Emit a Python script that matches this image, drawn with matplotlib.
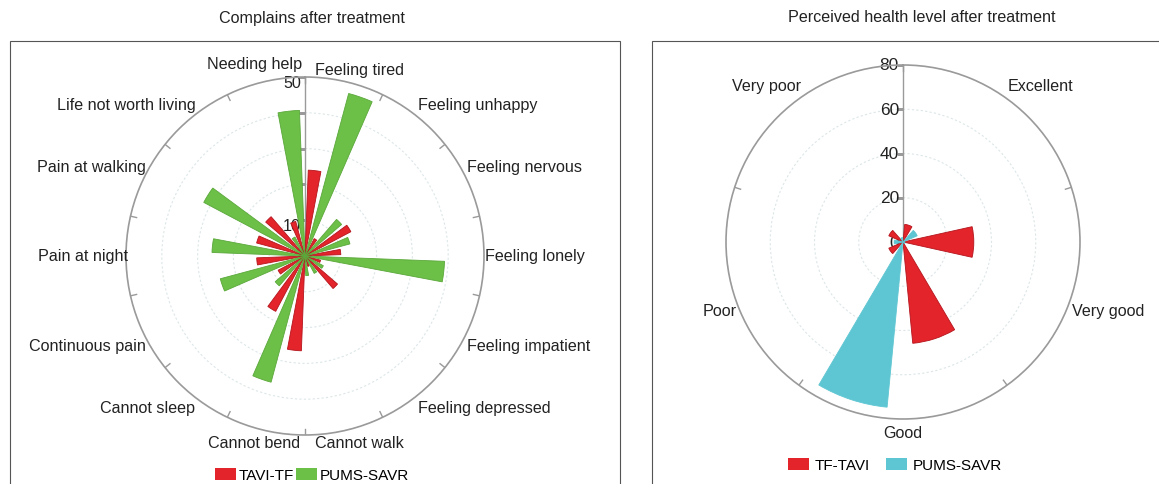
import numpy as np
import matplotlib.pyplot as plt
from matplotlib.patches import Patch, Rectangle

plt.rcParams['font.family'] = ['Liberation Sans', 'DejaVu Sans']

# left chart: complaints, clockwise from the top
complaints = ['Feeling tired', 'Feeling unhappy', 'Feeling nervous', 'Feeling lonely',
              'Feeling impatient', 'Feeling depressed', 'Cannot walk', 'Cannot bend',
              'Cannot sleep', 'Continuous pain', 'Pain at night', 'Pain at walking',
              'Life not worth living', 'Needing help']
tavi_tf = [24, 5.5, 14.5, 10, 4.5, 12, 3, 26.5, 17.5, 8.5, 13.5, 14, 14.5, 10]
pums_savr = [47, 13.5, 13, 39, 5.8, 5.5, 5.5, 36.5, 11, 24.5, 26, 32, 6, 40.7]
complaint_ticks = [10, 20, 30, 40, 50]
complaint_tick_labels = ['10', '', '', '', '50']  # the others sit under the bars

# right chart: perceived health
health_levels = ['Excellent', 'Very good', 'Good', 'Poor', 'Very poor']
tf_tavi = [8, 32, 46, 7, 7]
pums_savr_health = [7, 1, 75, 4, 2]
health_ticks = [0, 20, 40, 60, 80]

RED = '#e3242b'
GREEN = '#6cbf47'
CYAN = '#5ec6d2'
GREY = '#9a9a9a'

W, H = 1159, 485
fig = plt.figure(figsize=(W / 100, H / 100), dpi=100)


def polar_axes(cx, cy, r):
    return fig.add_axes([(cx - r) / W, (H - cy - r) / H, 2 * r / W, 2 * r / H], projection='polar')


def setup(ax, cats, rmax, rticks, rlabels, rfont, rdy, center_shift, vpad, nudges={}):
    n = len(cats)
    step = 2 * np.pi / n
    ax.set_theta_zero_location('N')
    ax.set_theta_direction(-1)
    ax.set_ylim(0, rmax)
    ax.set_xticks(np.arange(n) * step)
    ax.set_xticklabels([])
    ax.tick_params(axis='x', length=0)
    ax.set_yticks(rticks)
    ax.set_yticklabels([])
    ax.tick_params(axis='y', length=0)
    ax.xaxis.grid(False)
    ax.yaxis.grid(True, color='#dce6e8', linestyle=(0, (2, 2)), lw=0.8)
    ax.spines['polar'].set_color(GREY)
    ax.spines['polar'].set_linewidth(1.2)
    # small inward ticks on the rim at the category boundaries
    for t in np.arange(n) * step:
        ax.plot([t, t], [rmax * 0.965, rmax], color=GREY, lw=1, zorder=2)
    ax.plot([0, 0], [0, rmax], color=GREY, lw=1, zorder=2)
    ax.plot(np.zeros(len(rticks)), rticks, ls='none', marker=0, ms=4, color=GREY, zorder=2)
    for r, lab in zip(rticks, rlabels):
        ax.annotate(lab, xy=(0, r), xytext=(-4, rdy), textcoords='offset pixels',
                    ha='right', va='center', fontsize=rfont, color='#222222', zorder=2)
    # category labels around the circle
    for i, cat in enumerate(cats):
        t = (i + 0.5) * step
        s, c = np.sin(t), np.cos(t)
        if abs(s) < 0.3:
            ha, dx = 'center', (center_shift if s > 0.01 else -center_shift + 4 if s < -0.01 else 0)
        else:
            ha, dx = ('left', 1) if s > 0 else ('right', 2)
        if abs(c) < 0.1:
            va, dy = 'center', 0
        else:
            va, dy = ('bottom', vpad) if c > 0 else ('top', -vpad)
        ndx, ndy = nudges.get(cat, (0, 0))
        ax.annotate(cat, xy=(t, rmax), xytext=(dx + ndx, dy + ndy), textcoords='offset pixels',
                    ha=ha, va=va, fontsize=11.6, color='#222222', annotation_clip=False)
    return step


# left panel
ax1 = polar_axes(305, 257, 179)
step = setup(ax1, complaints, 50, complaint_ticks, complaint_tick_labels, 11.6, -5, 15, 4,
             nudges={'Needing help': (0, 6)})
theta = np.arange(len(complaints)) * step + step / 2
bw = np.deg2rad(8.5)
ax1.bar(theta - step / 4, tavi_tf, width=bw, color=RED, edgecolor='#b5141c', lw=0.6, zorder=4)
ax1.bar(theta + step / 4, pums_savr, width=bw, color=GREEN, edgecolor='#5aa83a', lw=0.6, zorder=4)

# right panel
ax2 = polar_axes(903, 243, 177)
step = setup(ax2, health_levels, 80, health_ticks, [str(v) for v in health_ticks], 12.5, 0, 0, 6)
theta = np.arange(len(health_levels)) * step + step / 2
bw = np.deg2rad(25)
ax2.bar(theta - step / 4, tf_tavi, width=bw, color=RED, edgecolor='#b5141c', lw=0.6, zorder=4)
ax2.bar(theta + step / 4, pums_savr_health, width=bw, color=CYAN, edgecolor=CYAN, lw=0.6, zorder=4)

# panel frames and titles
fig.add_artist(Rectangle((10 / W, -0.1), 610 / W, (H - 42) / H + 0.1, transform=fig.transFigure,
                         fill=False, ec='#555555', lw=0.8))
fig.add_artist(Rectangle((652 / W, -0.1), 600 / W, (H - 42) / H + 0.1, transform=fig.transFigure,
                         fill=False, ec='#555555', lw=0.8))
fig.text(312 / W, 1 - 18 / H, 'Complains after treatment', ha='center', va='center', fontsize=11.6,
         color='#222222')
fig.text(922 / W, 1 - 18 / H, 'Perceived health level after treatment', ha='center', va='center',
         fontsize=11.6, color='#222222')

fig.legend(handles=[Patch(facecolor=RED, label='TAVI-TF'), Patch(facecolor=GREEN, label='PUMS-SAVR')],
           loc='center', bbox_to_anchor=(312 / W, 1 - 476 / H), ncol=2, frameon=False, fontsize=11,
           handlelength=1.4, handleheight=0.8, handletextpad=0.2, columnspacing=0.1)
fig.legend(handles=[Patch(facecolor=RED, label='TF-TAVI'), Patch(facecolor=CYAN, label='PUMS-SAVR')],
           loc='center', bbox_to_anchor=(895 / W, 1 - 466 / H), ncol=2, frameon=False, fontsize=11,
           handlelength=1.4, handleheight=0.8, handletextpad=0.4, columnspacing=1.0)

fig.savefig('out.png', dpi=100)
